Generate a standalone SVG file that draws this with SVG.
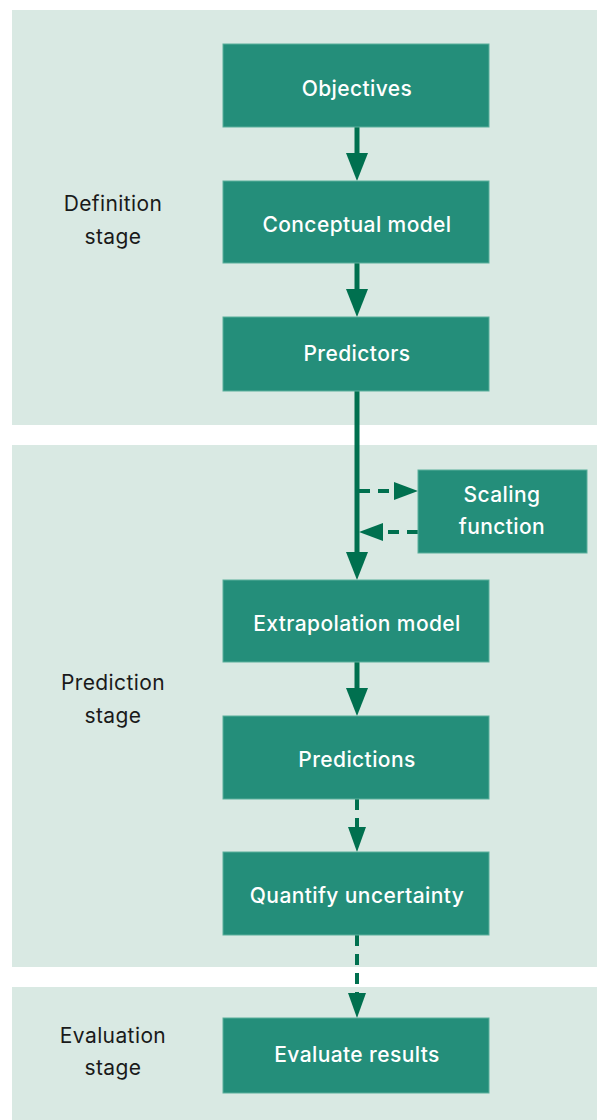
<svg xmlns="http://www.w3.org/2000/svg" width="597" height="1120" viewBox="0 0 597 1120">
  <style>
    .band { fill: #d9e9e3; }
    .box { fill: #248e7a; stroke: #5aaf9c; stroke-width: 1; }
    .boxtxt { font-family: Inter, "Noto Sans", sans-serif; font-size: 21px; letter-spacing: 0.4px; font-weight: 500; fill: #ffffff; text-anchor: middle; dominant-baseline: central; }
    .stage { font-family: Inter, "Noto Sans", sans-serif; font-size: 21px; letter-spacing: 0.4px; fill: #1a1a1a; text-anchor: middle; dominant-baseline: central; }
    .solid { stroke: #00704f; stroke-width: 5; fill: none; }
    .dash { stroke: #00704f; stroke-width: 4; fill: none; stroke-dasharray: 11 8; }
    .head { fill: #00704f; }
  </style>

  <!-- stage bands -->
  <g id="bands">
    <rect class="band" x="12" y="10" width="585" height="415"/>
    <rect class="band" x="12" y="445" width="585" height="522"/>
    <rect class="band" x="12" y="987" width="585" height="133"/>
  </g>

  <!-- stage labels -->
  <g id="stage-labels">
    <text class="stage" x="113" y="203">Definition</text>
    <text class="stage" x="113" y="236">stage</text>
    <text class="stage" x="113" y="682">Prediction</text>
    <text class="stage" x="113" y="715">stage</text>
    <text class="stage" x="113" y="1035">Evaluation</text>
    <text class="stage" x="113" y="1067">stage</text>
  </g>

  <!-- connectors -->
  <g id="connectors">
    <line class="solid" x1="357" y1="127" x2="357" y2="156"/>
    <polygon class="head" points="346,153 368,153 357,181"/>

    <line class="solid" x1="357" y1="263" x2="357" y2="292"/>
    <polygon class="head" points="346,289 368,289 357,317"/>

    <line class="solid" x1="357" y1="391" x2="357" y2="555"/>
    <polygon class="head" points="346,552 368,552 357,580"/>

    <line class="dash" x1="359" y1="491" x2="395" y2="491"/>
    <polygon class="head" points="394,482 394,500 418,491"/>

    <line class="dash" x1="418" y1="532" x2="382" y2="532"/>
    <polygon class="head" points="383,523 383,541 359,532"/>

    <line class="solid" x1="357" y1="662" x2="357" y2="691"/>
    <polygon class="head" points="346,688 368,688 357,716"/>

    <line class="dash" x1="357" y1="799" x2="357" y2="829"/>
    <polygon class="head" points="348,827 366,827 357,852"/>

    <line class="dash" x1="357" y1="935" x2="357" y2="995"/>
    <polygon class="head" points="348,993 366,993 357,1018"/>
  </g>

  <!-- nodes -->
  <g id="objectives">
    <rect class="box" x="223" y="44" width="266" height="83"/>
    <text class="boxtxt" x="357" y="88">Objectives</text>
  </g>
  <g id="conceptual-model">
    <rect class="box" x="223" y="181" width="266" height="82"/>
    <text class="boxtxt" x="357" y="224">Conceptual model</text>
  </g>
  <g id="predictors">
    <rect class="box" x="223" y="317" width="266" height="74"/>
    <text class="boxtxt" x="357" y="353">Predictors</text>
  </g>
  <g id="scaling-function">
    <rect class="box" x="418" y="470" width="169" height="83"/>
    <text class="boxtxt" x="502" y="494">Scaling</text>
    <text class="boxtxt" x="502" y="526">function</text>
  </g>
  <g id="extrapolation-model">
    <rect class="box" x="223" y="580" width="266" height="82"/>
    <text class="boxtxt" x="357" y="623">Extrapolation model</text>
  </g>
  <g id="predictions">
    <rect class="box" x="223" y="716" width="266" height="83"/>
    <text class="boxtxt" x="357" y="759">Predictions</text>
  </g>
  <g id="quantify-uncertainty">
    <rect class="box" x="223" y="852" width="266" height="83"/>
    <text class="boxtxt" x="357" y="895">Quantify uncertainty</text>
  </g>
  <g id="evaluate-results">
    <rect class="box" x="223" y="1018" width="266" height="75"/>
    <text class="boxtxt" x="357" y="1054">Evaluate results</text>
  </g>
</svg>
